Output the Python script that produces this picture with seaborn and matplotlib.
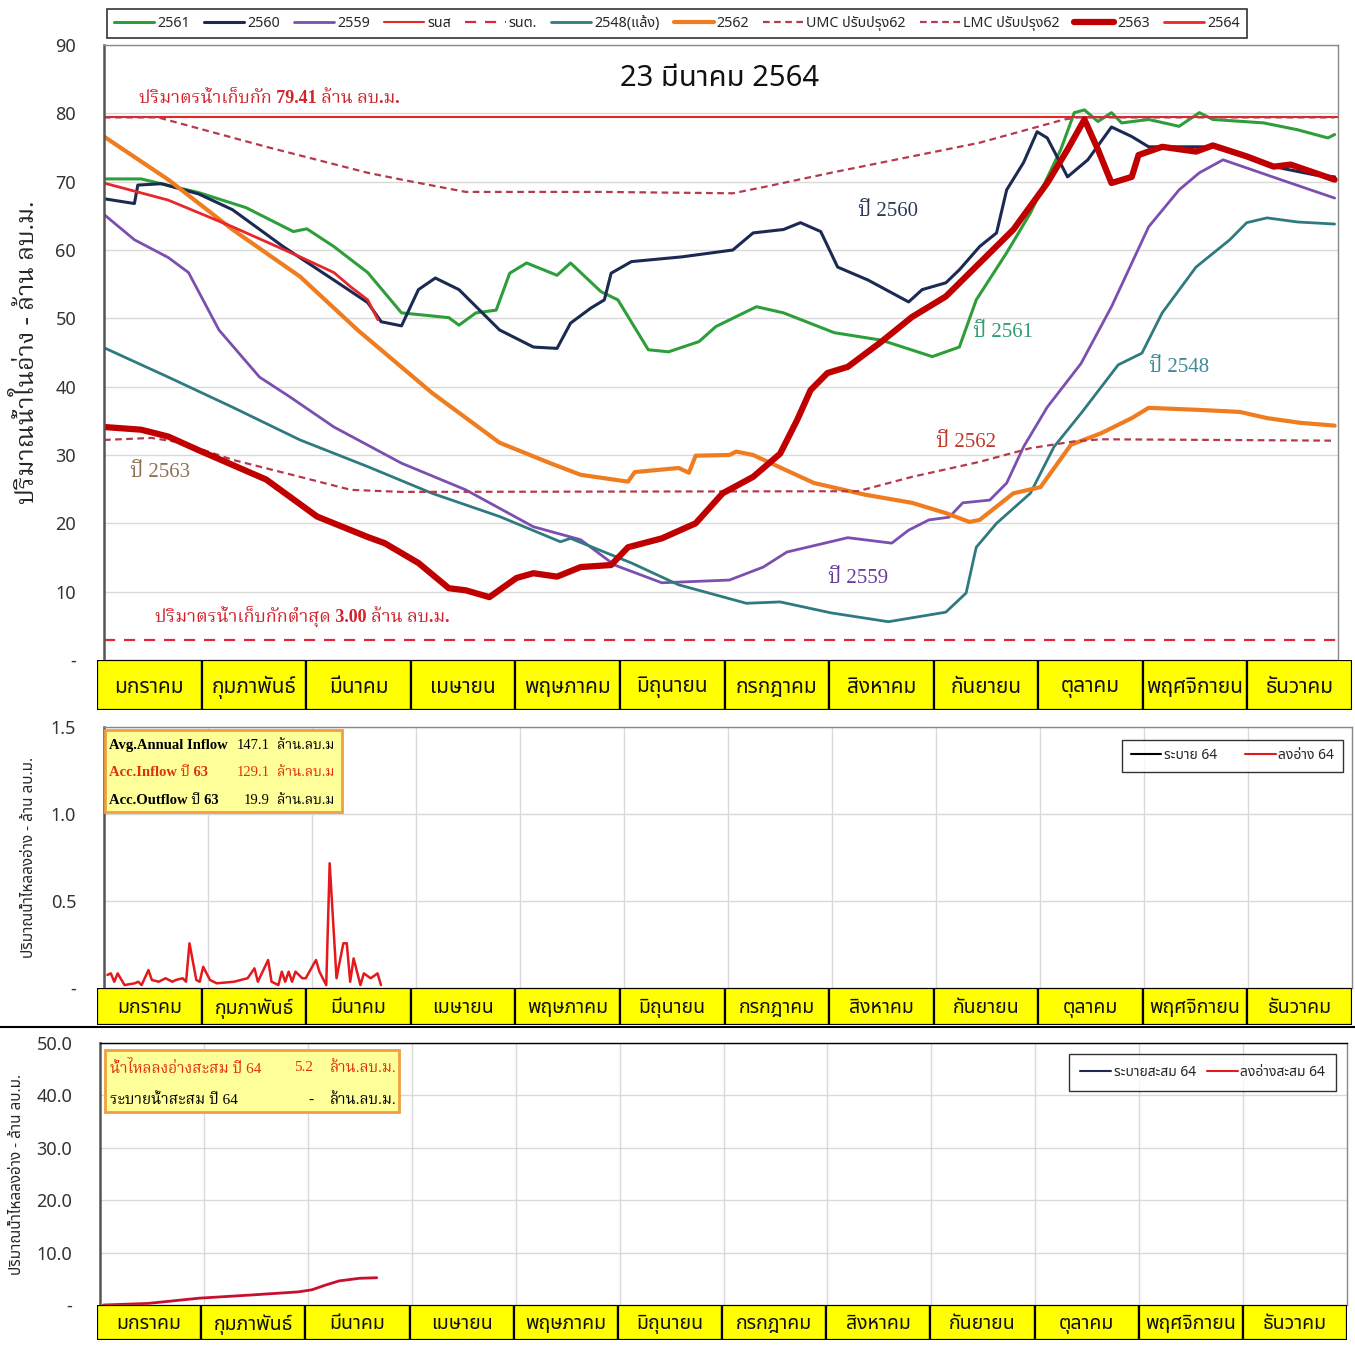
import matplotlib
matplotlib.use('Agg')
import matplotlib.pyplot as plt
from matplotlib import font_manager, ft2font
from matplotlib.patches import Rectangle
from matplotlib.lines import Line2D
import seaborn as sns

# ---------------- data (day of year, value in ล้าน ลบ.ม.) ----------------
months = ['มกราคม', 'กุมภาพันธ์', 'มีนาคม', 'เมษายน', 'พฤษภาคม', 'มิถุนายน',
          'กรกฎาคม', 'สิงหาคม', 'กันยายน', 'ตุลาคม', 'พฤศจิกายน', 'ธันวาคม']

d2561 = [0, 11, 28, 42, 56, 60, 68, 78, 88, 102, 105, 110, 116, 120, 125, 134, 138, 147, 152, 161, 167, 176, 181,
         193, 201, 216, 230, 245, 253, 258, 267, 274, 283, 287, 290, 294, 298, 301, 309, 318, 324, 328, 343, 353, 362, 364]
v2561 = [70.4, 70.4, 68.4, 66.2, 62.7, 63.1, 60.5, 56.7, 50.8, 50.1, 49.0, 50.8, 51.2, 56.6, 58.1, 56.3, 58.1, 53.9,
         52.7, 45.4, 45.1, 46.6, 48.8, 51.7, 50.8, 47.9, 46.8, 44.4, 45.8, 52.7, 59.6, 65.4, 74.7, 80.1, 80.5, 78.8,
         80.1, 78.6, 79.1, 78.1, 80.1, 79.1, 78.6, 77.6, 76.4, 76.9]

d2560 = [0, 9, 10, 17, 28, 38, 53, 68, 78, 82, 88, 93, 98, 105, 117, 127, 134, 138, 144, 148, 150, 156, 171, 186, 192,
         201, 206, 212, 217, 226, 238, 242, 249, 253, 259, 264, 267, 272, 276, 279, 285, 291, 298, 304, 309, 328, 348,
         358, 364]
v2560 = [67.5, 66.8, 69.5, 69.7, 68.2, 65.9, 60.5, 55.6, 52.3, 49.5, 48.9, 54.2, 55.9, 54.2, 48.3, 45.8, 45.6, 49.3,
         51.5, 52.7, 56.6, 58.3, 59.0, 60.0, 62.5, 63.0, 64.0, 62.7, 57.5, 55.6, 52.4, 54.2, 55.2, 57.1, 60.5, 62.5,
         68.8, 72.8, 77.3, 76.4, 70.7, 73.2, 78.0, 76.6, 75.1, 75.1, 72.0, 71.0, 70.7]

d2559 = [0, 9, 19, 25, 34, 46, 55, 68, 88, 107, 127, 141, 151, 165, 185, 195, 202, 220, 233, 238, 244, 250, 254, 262,
         267, 272, 279, 289, 298, 309, 318, 324, 331, 348, 364]
v2559 = [65.2, 61.5, 58.9, 56.7, 48.3, 41.4, 38.5, 34.1, 28.8, 24.9, 19.5, 17.6, 13.9, 11.3, 11.7, 13.6, 15.8, 17.9,
         17.1, 19.0, 20.5, 20.9, 23.0, 23.4, 25.9, 31.2, 37.0, 43.4, 51.7, 63.4, 68.8, 71.3, 73.2, 70.3, 67.6]

d2548 = [0, 19, 38, 58, 78, 97, 117, 135, 138, 156, 170, 190, 200, 215, 232, 249, 255, 258, 264, 274, 281, 289, 300,
         307, 313, 323, 333, 338, 344, 353, 364]
v2548 = [45.7, 41.4, 37.0, 32.2, 28.3, 24.4, 21.0, 17.3, 17.8, 14.2, 11.0, 8.3, 8.5, 6.9, 5.6, 7.0, 9.8, 16.5, 20.0,
         24.4, 31.2, 36.1, 43.2, 44.9, 50.8, 57.5, 61.5, 64.0, 64.7, 64.1, 63.8]

d2562 = [0, 19, 38, 58, 75, 97, 117, 132, 141, 155, 157, 170, 173, 175, 185, 187, 192, 210, 225, 239, 249, 256, 259,
         269, 277, 286, 295, 304, 309, 324, 336, 344, 354, 364]
v2562 = [76.6, 70.3, 63.0, 56.1, 48.3, 39.1, 31.8, 28.8, 27.1, 26.1, 27.5, 28.1, 27.4, 29.9, 30.0, 30.5, 30.0, 25.9,
         24.2, 23.0, 21.5, 20.2, 20.5, 24.4, 25.3, 31.5, 33.2, 35.4, 36.9, 36.6, 36.3, 35.4, 34.7, 34.3]

d2563 = [0, 11, 19, 28, 48, 63, 78, 83, 93, 102, 107, 114, 122, 127, 134, 141, 150, 155, 165, 175, 183, 192, 200, 205,
         209, 214, 220, 230, 239, 249, 259, 269, 279, 285, 290, 294, 298, 304, 306, 313, 323, 328, 338, 346, 351, 364]
v2563 = [34.1, 33.7, 32.7, 30.7, 26.4, 21.0, 18.0, 17.1, 14.2, 10.5, 10.2, 9.2, 12.0, 12.7, 12.2, 13.6, 13.9, 16.5,
         17.8, 20.0, 24.4, 26.8, 30.2, 35.1, 39.5, 42.0, 42.9, 46.6, 50.2, 53.2, 58.1, 63.0, 69.8, 74.7, 79.1, 74.7,
         69.8, 70.7, 73.9, 75.1, 74.4, 75.3, 73.7, 72.2, 72.5, 70.3]

d2564 = [0, 19, 38, 58, 68, 73, 78, 81]
v2564 = [69.8, 67.3, 63.4, 59.0, 56.7, 54.6, 52.7, 49.8]

d_umc = [0, 16, 48, 78, 88, 107, 147, 186, 196, 216, 230, 259, 284, 288, 364]
v_umc = [79.4, 79.4, 75.1, 71.3, 70.3, 68.5, 68.5, 68.3, 69.3, 71.4, 72.8, 75.7, 79.1, 79.4, 79.4]

d_lmc = [0, 14, 23, 38, 58, 73, 88, 223, 239, 259, 274, 287, 295, 364]
v_lmc = [32.2, 32.5, 31.8, 29.3, 26.8, 24.9, 24.6, 24.7, 26.8, 29.0, 31.0, 32.0, 32.3, 32.1]

d_limits = [0, 365]
v_upper = [79.41, 79.41]
v_lower = [3.00, 3.00]

# daily inflow 2564
d_in = [1, 2, 3, 4, 6, 9, 10, 11, 13, 14, 16, 18, 20, 21, 23, 24, 25, 27, 28, 29, 31, 33, 38, 42, 44, 45, 48, 49, 51,
        52, 53, 54, 55, 56, 58, 59, 62, 63, 65, 66, 68, 70, 71, 72, 73, 75, 76, 78, 80, 81]
v_in = [0.075, 0.084, 0.036, 0.084, 0.017, 0.027, 0.036, 0.017, 0.103, 0.046, 0.036, 0.056, 0.036, 0.046, 0.056,
        0.036, 0.257, 0.046, 0.036, 0.122, 0.046, 0.027, 0.036, 0.056, 0.113, 0.036, 0.161, 0.036, 0.017, 0.094,
        0.036, 0.094, 0.036, 0.094, 0.056, 0.056, 0.161, 0.094, 0.017, 0.717, 0.056, 0.257, 0.257, 0.036, 0.170,
        0.017, 0.084, 0.056, 0.084, 0.017]

# cumulative inflow 2564
d_acc = [1, 14, 29, 44, 58, 62, 66, 70, 76, 81]
v_acc = [0.0, 0.3, 1.3, 1.9, 2.5, 2.9, 3.8, 4.6, 5.1, 5.2]

# ---------------- style ----------------
sns.set_theme(style='white')

thai = set()
for f in font_manager.fontManager.ttflist:
    try:
        if 0x0E01 in ft2font.FT2Font(f.fname).get_charmap():
            thai.add(f.name)
    except Exception:
        pass
fam = 'Noto Sans Thai' if 'Noto Sans Thai' in thai else (sorted(thai)[0] if thai else 'DejaVu Sans')
serif = 'Noto Serif Thai' if 'Noto Serif Thai' in thai else fam
plt.rcParams['font.family'] = [fam, 'DejaVu Sans']
SERIF = ['Liberation Serif', serif]

fig = plt.figure(figsize=(13.55, 13.55), dpi=100)
W = H = 1355.0


def rect(x0, y0, x1, y1):
    return [x0 / W, 1 - y1 / H, (x1 - x0) / W, (y1 - y0) / H]


def month_row(r, fs):
    mx = fig.add_axes(r)
    for i, m in enumerate(months):
        mx.add_patch(Rectangle((i, 0), 1, 1, facecolor='#FFFF00', edgecolor='black', lw=1.6))
        mx.text(i + 0.5, 0.45, m, ha='center', va='center', fontsize=fs, fontweight='bold', color='#111111')
    mx.set_xlim(0, 12)
    mx.set_ylim(0, 1)
    mx.axis('off')


def frame(ax, pad):
    for s in ax.spines.values():
        s.set_color('#888888')
        s.set_linewidth(1)
    ax.spines['left'].set_color('#555555')
    ax.spines['left'].set_linewidth(1.8)
    ax.tick_params(axis='both', length=0, labelsize=13, labelcolor='#333333', pad=pad)
    ax.set_xticks([])
    ax.set_xlabel('')


# ---------------- top panel ----------------
ax = fig.add_axes(rect(104, 45, 1338, 660))
series = [
    ('2561', d2561, v2561, '#2E9E3A', 2.2, '-'),
    ('2560', d2560, v2560, '#1B2A52', 2.2, '-'),
    ('2559', d2559, v2559, '#7B4FB0', 2.0, '-'),
    ('รนส', d_limits, v_upper, '#E02626', 1.5, '-'),
    ('รนต.', d_limits, v_lower, '#E0263A', 1.6, (0, (5, 4))),
    ('2548(แล้ง)', d2548, v2548, '#2F7A80', 2.0, '-'),
    ('2562', d2562, v2562, '#F07C20', 3.0, '-'),
    ('UMC ปรับปรุง62', d_umc, v_umc, '#B53A4E', 1.6, (0, (3, 2))),
    ('LMC ปรับปรุง62', d_lmc, v_lmc, '#B53A4E', 1.6, (0, (3, 2))),
    ('2563', d2563, v2563, '#C00000', 4.5, '-'),
    ('2564', d2564, v2564, '#E8262B', 2.0, '-'),
]
for name, xs, ys, c, lw, ls in series:
    sns.lineplot(x=xs, y=ys, ax=ax, color=c, lw=lw, linestyle=ls, label=name, legend=False)

ax.set_xlim(0, 365)
ax.set_ylim(0, 90)
ax.set_yticks(range(0, 100, 10))
ax.set_yticklabels(['-'] + [str(v) for v in range(10, 100, 10)])
ax.yaxis.grid(True, color='#D9D9D9', lw=1)
frame(ax, 20)
ax.set_ylabel('ปริมาณน้ำในอ่าง - ล้าน ลบ.ม.', fontsize=18, labelpad=12, family=SERIF)

ax.text(0.499, 0.946, '23 มีนาคม 2564', transform=ax.transAxes, ha='center', va='center',
        fontsize=21, color='#111111')
ax.text(10.5, 82.2, 'ปริมาตรน้ำเก็บกัก 79.41 ล้าน ลบ.ม.', fontsize=13, fontweight='bold',
        color='#D2232A', va='center', family=SERIF)
ax.text(15, 6.3, 'ปริมาตรน้ำเก็บกักต่ำสุด 3.00 ล้าน ลบ.ม.', fontsize=13, fontweight='bold',
        color='#D2232A', va='center', family=SERIF)
for txt, x, y, c in [('ปี 2560', 232, 65.6, '#2B3A55'), ('ปี 2561', 266, 47.9, '#2E9E70'),
                     ('ปี 2548', 318, 42.8, '#3D8A99'), ('ปี 2562', 255, 31.8, '#C0392B'),
                     ('ปี 2563', 16.5, 27.5, '#8C7355'), ('ปี 2559', 223, 12.0, '#6A3D9A')]:
    ax.text(x, y, txt, ha='center', va='center', fontsize=15, color=c, family=SERIF)

handles, labels = ax.get_legend_handles_labels()
leg = fig.legend(handles, labels, loc='upper left', bbox_to_anchor=(100 / W, 1 - 2 / H), ncol=11,
                 fontsize=10.3, handlelength=2.8, columnspacing=1.0, handletextpad=0.2,
                 frameon=True, fancybox=False, edgecolor='black', borderpad=0.5)
leg.get_frame().set_linewidth(1.2)

month_row(rect(97, 660, 1352, 710), 15)

# ---------------- middle panel ----------------
ax2 = fig.add_axes(rect(104, 727, 1352, 988))
sns.lineplot(x=d_in, y=v_in, ax=ax2, color='#E3191C', lw=1.8, legend=False)
ax2.set_xlim(0, 365)
ax2.set_ylim(0, 1.5)
ax2.set_yticks([0, 0.5, 1.0, 1.5])
ax2.set_yticklabels(['-', '0.5', '1.0', '1.5'])
ax2.yaxis.grid(True, color='#D9D9D9', lw=1)
for k in range(1, 12):
    ax2.axvline(365 / 12 * k, color='#D9D9D9', lw=1, zorder=0)
frame(ax2, 20)
ax2.set_ylabel('ปริมาณน้ำไหลลงอ่าง - ล้าน ลบ.ม.', fontsize=11, labelpad=10)

ax2.add_patch(Rectangle((0.001, 0.674), 0.19, 0.315, transform=ax2.transAxes, facecolor='#FFFF99',
                        edgecolor='#F0A040', lw=2, zorder=5))
for i, (lab, num, c) in enumerate([('Avg.Annual Inflow', '147.1', 'black'),
                                   ('Acc.Inflow ปี 63', '129.1', '#E03010'),
                                   ('Acc.Outflow ปี 63', '19.9', 'black')]):
    yy = 0.931 - i * 0.107
    ax2.text(0.004, yy, lab, transform=ax2.transAxes, fontsize=10.5, fontweight='bold', color=c,
             va='center', zorder=6, family=SERIF)
    ax2.text(0.133, yy, num, transform=ax2.transAxes, fontsize=10.5, color=c, va='center', ha='right',
             zorder=6, family=SERIF)
    ax2.text(0.139, yy, 'ล้าน.ลบ.ม', transform=ax2.transAxes, fontsize=10, color=c, va='center',
             zorder=6, family=SERIF)

h2 = [Line2D([], [], color='black', lw=1.5), Line2D([], [], color='#E3191C', lw=1.5)]
l2 = ax2.legend(h2, ['ระบาย 64', 'ลงอ่าง 64'], loc='upper right', bbox_to_anchor=(0.998, 0.977), ncol=2,
                fontsize=10, frameon=True, fancybox=False, edgecolor='black', handlelength=2.2,
                columnspacing=2.0, handletextpad=0.2, borderpad=0.6)
l2.get_frame().set_linewidth(1.0)

month_row(rect(97, 988, 1352, 1025), 14)

fig.add_artist(Line2D([0, 1], [1 - 1027 / H] * 2, color='black', lw=1.5, transform=fig.transFigure))

# ---------------- bottom panel ----------------
ax3 = fig.add_axes(rect(100, 1043, 1347, 1305))
sns.lineplot(x=d_acc, y=v_acc, ax=ax3, color='#C8102E', lw=2, legend=False)
ax3.set_xlim(0, 365)
ax3.set_ylim(0, 50)
ax3.set_yticks(range(0, 60, 10))
ax3.set_yticklabels(['-'] + ['%.1f' % v for v in range(10, 60, 10)])
ax3.yaxis.grid(True, color='#D9D9D9', lw=1)
for k in range(1, 12):
    ax3.axvline(365 / 12 * k, color='#D9D9D9', lw=1, zorder=0)
frame(ax3, 20)
ax3.spines['top'].set_color('black')
ax3.set_ylabel('ปริมาณน้ำไหลลงอ่าง - ล้าน ลบ.ม.', fontsize=11, labelpad=8)

ax3.add_patch(Rectangle((0.004, 0.737), 0.236, 0.236, transform=ax3.transAxes, facecolor='#FFFF99',
                        edgecolor='#F0A040', lw=2, zorder=5))
for i, (lab, num, c) in enumerate([('น้ำไหลลงอ่างสะสม ปี 64', '5.2', '#E03010'),
                                   ('ระบายน้ำสะสม ปี 64', '-', 'black')]):
    yy = 0.905 - i * 0.123
    ax3.text(0.008, yy, lab, transform=ax3.transAxes, fontsize=11, color=c, va='center', zorder=6,
             family=SERIF)
    ax3.text(0.171, yy, num, transform=ax3.transAxes, fontsize=11, color=c, va='center', ha='right',
             zorder=6, family=SERIF)
    ax3.text(0.184, yy, 'ล้าน.ลบ.ม.', transform=ax3.transAxes, fontsize=11, color=c, va='center',
             zorder=6, family=SERIF)

h3 = [Line2D([], [], color='#1B2A52', lw=1.5), Line2D([], [], color='#E3191C', lw=1.5)]
l3 = ax3.legend(h3, ['ระบายสะสม 64', 'ลงอ่างสะสม 64'], loc='upper right', bbox_to_anchor=(0.997, 0.985),
                ncol=2, fontsize=10, frameon=True, fancybox=False, edgecolor='black', handlelength=2.2,
                columnspacing=0.8, handletextpad=0.2, borderpad=0.8)
l3.get_frame().set_linewidth(1.0)

month_row(rect(97, 1305, 1347, 1340), 14)

fig.savefig('out.png', dpi=100)
